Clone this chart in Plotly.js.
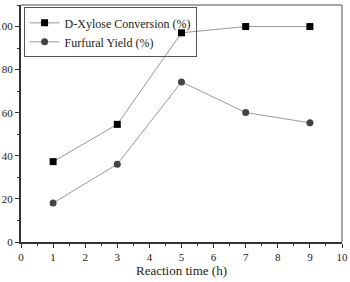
<!DOCTYPE html>
<html><head><meta charset="utf-8">
<script src="https://cdn.plot.ly/plotly-3.0.1.min.js"></script>
<style>html,body{margin:0;padding:0;background:#fff}#chart{width:350px;height:282px}</style>
</head><body><div id="chart"></div>
<script>
const reactionTime = [1, 3, 5, 7, 9];
const xyloseConversion = [37.3, 54.6, 97.1, 100, 100];
const furfuralYield = [18.1, 36.1, 74.3, 60.1, 55.3];
const seriesNames = ['D-Xylose Conversion (%)', 'Furfural Yield (%)'];

const fam = "'Liberation Serif', 'DejaVu Serif', serif";
const traces = [
  {x: reactionTime, y: xyloseConversion, name: seriesNames[0], type: 'scatter', mode: 'lines+markers',
   line: {color: '#999', width: 1}, marker: {symbol: 'square', size: 7, color: '#000'}},
  {x: reactionTime, y: furfuralYield, name: seriesNames[1], type: 'scatter', mode: 'lines+markers',
   line: {color: '#999', width: 1}, marker: {symbol: 'circle', size: 7, color: '#444'}}
];
const layout = {
  width: 350, height: 282,
  margin: {l: 21, r: 8, t: 5, b: 40},
  paper_bgcolor: '#fff', plot_bgcolor: '#fff',
  font: {family: fam, size: 11, color: '#222'},
  showlegend: true,
  legend: {x: 0.008, y: 0.99, xanchor: 'left', yanchor: 'top', bordercolor: '#555', borderwidth: 1,
           bgcolor: 'rgba(255,255,255,0)', font: {family: fam, size: 12, color: '#222'}, tracegroupgap: 0,
           itemwidth: 30},
  xaxis: {range: [0, 10], dtick: 1, ticks: 'outside', ticklen: 4, tickwidth: 1, tickcolor: '#333',
          showline: true, linecolor: '#333', linewidth: 2, showgrid: false, zeroline: false,
          tickfont: {family: fam, size: 11, color: '#222'},
          minor: {dtick: 0.5, ticks: 'outside', ticklen: 2, tickcolor: '#333', showgrid: false},
          title: {text: 'Reaction time (h)', font: {family: fam, size: 13, color: '#222'}, standoff: 2}},
  yaxis: {range: [0, 110], dtick: 20, ticks: 'outside', ticklen: 4, tickwidth: 1, tickcolor: '#333',
          showline: true, linecolor: '#333', linewidth: 2, showgrid: false, zeroline: false,
          tickfont: {family: fam, size: 11, color: '#222'},
          minor: {dtick: 10, ticks: 'outside', ticklen: 2, tickcolor: '#333', showgrid: false}},
  shapes: [
    {type: 'line', xref: 'paper', yref: 'paper', x0: 0, x1: 1, y0: 1, y1: 1, line: {color: '#888', width: 1.5}},
    {type: 'line', xref: 'paper', yref: 'paper', x0: 1, x1: 1, y0: 0, y1: 1, line: {color: '#888', width: 1.5}}
  ]
};
Plotly.newPlot('chart', traces, layout, {displayModeBar: false, staticPlot: true});
</script></body></html>
